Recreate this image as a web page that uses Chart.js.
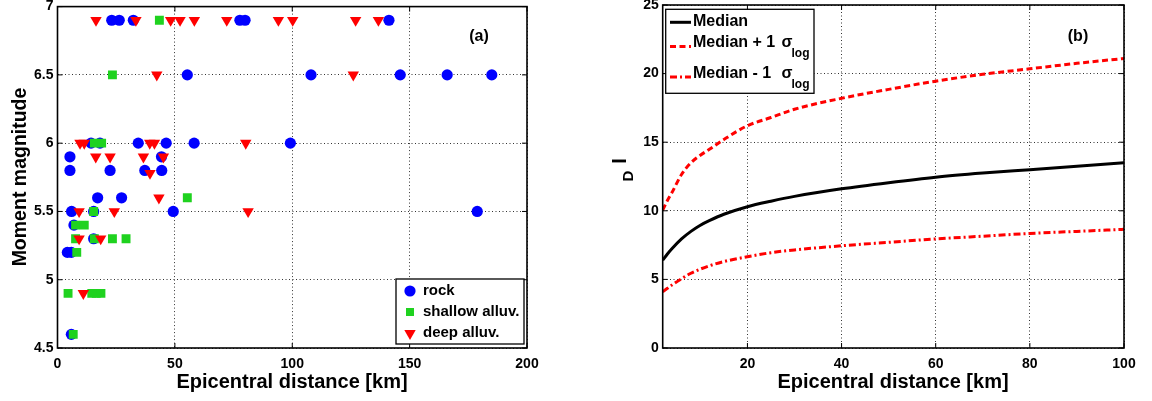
<!DOCTYPE html>
<html><head><meta charset="utf-8">
<script src="https://cdn.jsdelivr.net/npm/chart.js@4/dist/chart.umd.min.js"></script>
<style>
html,body{margin:0;padding:0;background:#fff;width:1152px;height:401px;overflow:hidden}
#a{position:absolute;left:0;top:0}
#b{position:absolute;left:600px;top:0}
</style></head><body>
<canvas id="a" width="560" height="401"></canvas>
<canvas id="b" width="552" height="401"></canvas>
<script>
// ---- Panel (a) data: epicentral distance [km] and moment magnitude ----
const rockDist = [23.1, 26.3, 32.3, 77.7, 79.9, 141.2, 55.3, 108, 146, 166, 185, 14.3, 18.1, 34.4, 46.3, 58.2, 99.2, 5.3, 44.3, 5.3, 22.4, 37.2, 44.4, 17.1, 27.3, 6.0, 15.4, 49.3, 178.8, 7.0, 15.4, 4.2, 5.9, 5.9];
const rockMag  = [6.9, 6.9, 6.9, 6.9, 6.9, 6.9, 6.5, 6.5, 6.5, 6.5, 6.5, 6.0, 6.0, 6.0, 6.0, 6.0, 6.0, 5.9, 5.9, 5.8, 5.8, 5.8, 5.8, 5.6, 5.6, 5.5, 5.5, 5.5, 5.5, 5.4, 5.3, 5.2, 5.2, 4.6];
const shallowDist = [43.4, 23.4, 15.7, 18.8, 55.3, 15.4, 7.7, 11.4, 7.7, 15.7, 23.4, 29.2, 8.2, 4.5, 14.6, 16.5, 18.5, 6.7];
const shallowMag  = [6.9, 6.5, 6.0, 6.0, 5.6, 5.5, 5.4, 5.4, 5.3, 5.3, 5.3, 5.3, 5.2, 4.9, 4.9, 4.9, 4.9, 4.6];
const deepDist = [16.4, 33.4, 48.2, 52.2, 58.3, 72.1, 94.1, 100.2, 127, 136.7, 42.3, 126, 9.6, 11.4, 39.3, 41.3, 80.2, 16.3, 22.4, 36.6, 45.1, 39.4, 43.2, 9.2, 24.2, 81.2, 9.2, 18.4, 11];
const deepMag  = [6.9, 6.9, 6.9, 6.9, 6.9, 6.9, 6.9, 6.9, 6.9, 6.9, 6.5, 6.5, 6.0, 6.0, 6.0, 6.0, 6.0, 5.9, 5.9, 5.9, 5.9, 5.78, 5.6, 5.5, 5.5, 5.5, 5.3, 5.3, 4.9];
const distTicksA = [0, 50, 100, 150, 200];
const magTicks = [4.5, 5, 5.5, 6, 6.5, 7];

// ---- Panel (b) data: I_D versus epicentral distance ----
const curveDist = [2, 3, 4, 6, 8, 10, 12, 15, 20, 25, 30, 40, 50, 60, 70, 80, 90, 100];
const medianID  = [6.4, 6.85, 7.25, 7.95, 8.5, 8.95, 9.3, 9.75, 10.3, 10.7, 11.05, 11.6, 12.05, 12.45, 12.75, 13.0, 13.25, 13.5];
const plusID    = [10.05, 10.75, 11.35, 12.65, 13.5, 14.05, 14.5, 15.2, 16.2, 16.8, 17.4, 18.2, 18.85, 19.45, 19.95, 20.35, 20.75, 21.1];
const minusID   = [4.1, 4.35, 4.6, 5.05, 5.45, 5.75, 6.0, 6.3, 6.65, 6.95, 7.15, 7.45, 7.7, 7.95, 8.15, 8.35, 8.5, 8.65];
const distTicksB = [20, 40, 60, 80, 100];
const idTicks = [0, 5, 10, 15, 20, 25];

const FONT = "'Liberation Sans', Arial, sans-serif";
const BLUE = '#0000ff', GREEN = '#1fd21f', RED = '#ff0000';

const pts = (xs, ys) => xs.map((x, i) => ({x, y: ys[i]}));
const fixTicks = arr => scale => { scale.ticks = arr.map(v => ({value: v})); };
const tickFont = {family: FONT, size: 14, weight: 'bold'};

function gridOpts() {
  return {
    grid: {color: 'rgba(0,0,0,0.8)', lineWidth: 1, drawTicks: false},
    border: {display: false, dash: [1, 2.5]}
  };
}
function fitX(s) { s.height = 53; s.paddingLeft = 0; s.paddingRight = 0; }
const fitY = w => s => { s.width = w; s.paddingTop = 0; s.paddingBottom = 0; };

function text(ctx, s, x, y, font, align, rot) {
  ctx.save();
  ctx.font = font;
  ctx.fillStyle = '#000';
  ctx.textAlign = align || 'center';
  ctx.textBaseline = 'middle';
  ctx.translate(x, y);
  if (rot) ctx.rotate(rot);
  ctx.fillText(s, 0, 0);
  ctx.restore();
}

function makeFrame(extra) {
  return {
    id: 'frame',
    afterDraw(chart) {
      const ctx = chart.ctx, a = chart.chartArea;
      const xs = chart.scales.x, ys = chart.scales.y;
      ctx.save();
      ctx.strokeStyle = '#000';
      ctx.lineWidth = 1;
      ctx.beginPath();
      xs.ticks.forEach(t => {
        const p = xs.getPixelForValue(t.value);
        ctx.moveTo(p, a.bottom); ctx.lineTo(p, a.bottom - 5);
        ctx.moveTo(p, a.top); ctx.lineTo(p, a.top + 5);
      });
      ys.ticks.forEach(t => {
        const p = ys.getPixelForValue(t.value);
        ctx.moveTo(a.left, p); ctx.lineTo(a.left + 5, p);
        ctx.moveTo(a.right, p); ctx.lineTo(a.right - 5, p);
      });
      ctx.stroke();
      ctx.lineWidth = 1.6;
      ctx.strokeRect(a.left, a.top, a.right - a.left, a.bottom - a.top);
      ctx.restore();
      extra(ctx);
    }
  };
}

// ---------------- Panel (a) ----------------
new Chart(document.getElementById('a'), {
  type: 'scatter',
  data: {
    datasets: [
      {label: 'rock', data: pts(rockDist, rockMag), pointStyle: 'circle', pointRadius: 5.6, pointBorderWidth: 0, backgroundColor: BLUE, borderColor: BLUE, order: 3},
      {label: 'shallow alluv.', data: pts(shallowDist, shallowMag), pointStyle: 'rect', pointRadius: 6.3, pointBorderWidth: 0, backgroundColor: GREEN, borderColor: GREEN, order: 2},
      {label: 'deep alluv.', data: pts(deepDist, deepMag), pointStyle: 'triangle', pointRotation: 180, pointRadius: 6.6, pointBorderWidth: 0, backgroundColor: RED, borderColor: RED, order: 1}
    ]
  },
  options: {
    responsive: false, animation: false, devicePixelRatio: 1,
    layout: {padding: {top: 5, right: 33, left: 0, bottom: 0}},
    plugins: {legend: {display: false}, tooltip: {enabled: false}},
    scales: {
      x: Object.assign({type: 'linear', min: 0, max: 200, afterBuildTicks: fixTicks(distTicksA),
        afterFit: fitX,
        ticks: {color: '#000', padding: 8, font: tickFont, callback: v => String(v)}}, gridOpts()),
      y: Object.assign({type: 'linear', min: 4.5, max: 7, afterBuildTicks: fixTicks(magTicks),
        afterFit: fitY(57.5),
        ticks: {color: '#000', padding: 4, font: tickFont, callback: v => String(v)}}, gridOpts())
    }
  },
  plugins: [makeFrame(ctx => {
    text(ctx, 'Epicentral distance [km]', 292, 382, 'bold 20px ' + FONT);
    text(ctx, 'Moment magnitude', 21, 177, 'bold 19.5px ' + FONT, 'center', -Math.PI / 2);
    text(ctx, '(a)', 479, 37, 'bold 16px ' + FONT);
    ctx.save();
    ctx.fillStyle = '#fff';
    ctx.fillRect(396, 279, 128, 65);
    ctx.strokeStyle = '#000'; ctx.lineWidth = 1.3;
    ctx.strokeRect(396, 279, 128, 65);
    ctx.fillStyle = BLUE;
    ctx.beginPath(); ctx.arc(410, 291, 5.6, 0, 2 * Math.PI); ctx.fill();
    ctx.fillStyle = GREEN;
    ctx.fillRect(406, 308, 8, 8);
    ctx.fillStyle = RED;
    ctx.beginPath(); ctx.moveTo(404.3, 330); ctx.lineTo(415.7, 330); ctx.lineTo(410, 340); ctx.closePath(); ctx.fill();
    ctx.restore();
    text(ctx, 'rock', 423, 291, 'bold 15px ' + FONT, 'left');
    text(ctx, 'shallow alluv.', 423, 312, 'bold 15px ' + FONT, 'left');
    text(ctx, 'deep alluv.', 423, 333, 'bold 15px ' + FONT, 'left');
  })]
});

// ---------------- Panel (b) ----------------
new Chart(document.getElementById('b'), {
  type: 'line',
  data: {
    datasets: [
      {label: 'Median', data: pts(curveDist, medianID), borderColor: '#000', borderWidth: 3, pointRadius: 0, cubicInterpolationMode: 'monotone', order: 1},
      {label: 'Median + 1 σlog', data: pts(curveDist, plusID), borderColor: RED, borderWidth: 3, borderDash: [6, 3.5], pointRadius: 0, cubicInterpolationMode: 'monotone', order: 2},
      {label: 'Median - 1 σlog', data: pts(curveDist, minusID), borderColor: RED, borderWidth: 3, borderDash: [7, 3, 2, 3], pointRadius: 0, cubicInterpolationMode: 'monotone', order: 3}
    ]
  },
  options: {
    responsive: false, animation: false, devicePixelRatio: 1,
    layout: {padding: {top: 5, right: 28, left: 0, bottom: 0}},
    plugins: {legend: {display: false}, tooltip: {enabled: false}},
    scales: {
      x: Object.assign({type: 'linear', min: 2, max: 100, afterBuildTicks: fixTicks(distTicksB),
        afterFit: fitX,
        ticks: {color: '#000', padding: 8, font: tickFont, callback: v => String(v)}}, gridOpts()),
      y: Object.assign({type: 'linear', min: 0, max: 25, afterBuildTicks: fixTicks(idTicks),
        afterFit: fitY(62.7),
        ticks: {color: '#000', padding: 4, font: tickFont, callback: v => String(v)}}, gridOpts())
    }
  },
  plugins: [makeFrame(ctx => {
    text(ctx, 'Epicentral distance [km]', 293, 382, 'bold 20px ' + FONT);
    text(ctx, 'I', 20, 161, 'bold 20px ' + FONT, 'center', -Math.PI / 2);
    text(ctx, 'D', 29, 176, 'bold 15px ' + FONT, 'center', -Math.PI / 2);
    text(ctx, '(b)', 478, 37, 'bold 16px ' + FONT);
    ctx.save();
    ctx.fillStyle = '#fff';
    ctx.fillRect(65.7, 9.3, 148.3, 84);
    ctx.strokeStyle = '#000'; ctx.lineWidth = 1.3;
    ctx.strokeRect(65.7, 9.3, 148.3, 84);
    ctx.lineWidth = 3;
    ctx.strokeStyle = '#000';
    ctx.beginPath(); ctx.moveTo(70, 22.3); ctx.lineTo(91, 22.3); ctx.stroke();
    ctx.strokeStyle = RED;
    ctx.setLineDash([6, 3.5]);
    ctx.beginPath(); ctx.moveTo(70, 46.5); ctx.lineTo(91, 46.5); ctx.stroke();
    ctx.setLineDash([7, 3, 2, 3]);
    ctx.beginPath(); ctx.moveTo(70, 77); ctx.lineTo(91, 77); ctx.stroke();
    ctx.restore();
    const F = 'bold 16px ' + FONT;
    text(ctx, 'Median', 93, 22, F, 'left');
    text(ctx, 'Median + 1', 93, 43, F, 'left');
    text(ctx, 'σ', 181.5, 43, F, 'left');
    text(ctx, 'log', 191.5, 53.5, 'bold 12px ' + FONT, 'left');
    text(ctx, 'Median - 1', 93, 74, F, 'left');
    text(ctx, 'σ', 181.5, 74, F, 'left');
    text(ctx, 'log', 191.5, 84.5, 'bold 12px ' + FONT, 'left');
  })]
});
</script>
</body></html>
